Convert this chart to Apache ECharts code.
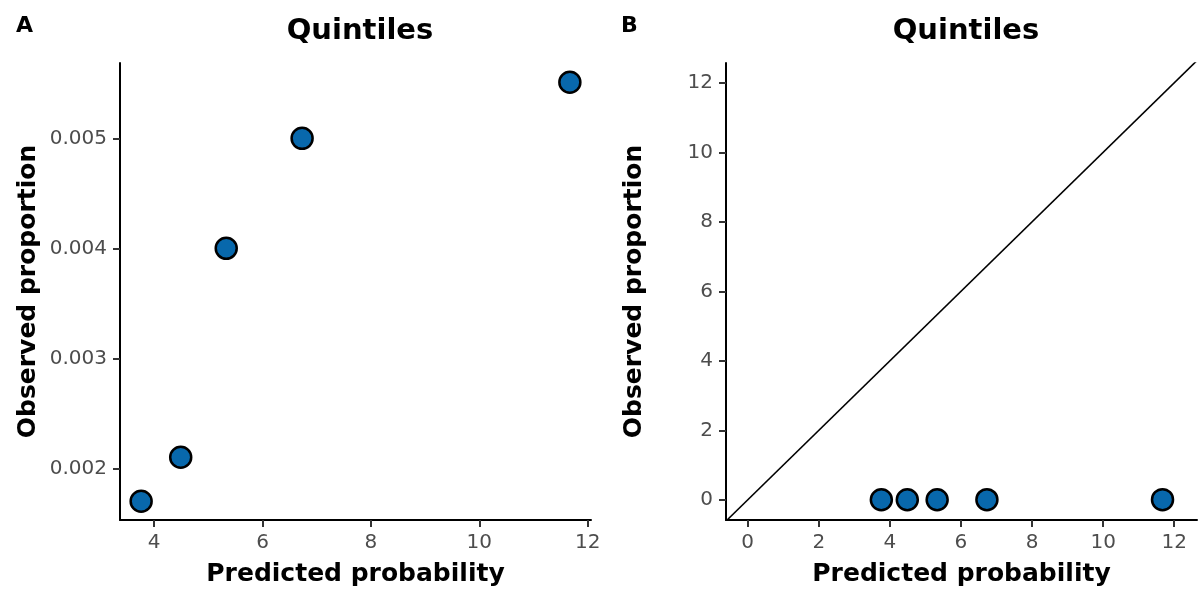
<!DOCTYPE html>
<html>
<head>
<meta charset="utf-8">
<script src="https://cdn.jsdelivr.net/npm/echarts@6/dist/echarts.min.js"></script>
<style>
html, body { margin: 0; padding: 0; background: #fff; }
#chart { width: 1200px; height: 592px; }
</style>
</head>
<body>
<div id="chart"></div>
<script>
// Data
const predicted = [3.76, 4.49, 5.33, 6.73, 11.67];
const observed = [0.0017, 0.0021, 0.0040, 0.0050, 0.00551];
const diagonal = [-1, 13];

// Tick labels
const ticksAx = [4, 6, 8, 10, 12];
const ticksAy = [0.002, 0.003, 0.004, 0.005];
const ticksBx = [0, 2, 4, 6, 8, 10, 12];
const ticksBy = [0, 2, 4, 6, 8, 10, 12];

const panelLabels = ['A', 'B'];
const panelTitle = 'Quintiles';
const xName = 'Predicted probability';
const yName = 'Observed proportion';

const FONT = 'DejaVu Sans';
const chart = echarts.init(document.getElementById('chart'), null, { renderer: 'canvas' });

function axisCommon(ticks, fmt) {
  return {
    type: 'value',
    splitLine: { show: false },
    axisLine: { show: true, onZero: false, lineStyle: { color: '#000', width: 2 } },
    axisTick: { show: true, length: 7, lineStyle: { color: '#333', width: 2 }, customValues: ticks },
    axisLabel: { show: true, margin: 13, color: '#4d4d4d', fontFamily: FONT, fontSize: 20, customValues: ticks, formatter: fmt },
    nameLocation: 'middle',
    nameTextStyle: { fontFamily: FONT, fontWeight: 'bold', fontSize: 25, color: '#000' }
  };
}

const pairsA = predicted.map((p, i) => [p, observed[i]]);
const pointStyle = { color: '#0868AC', borderColor: '#000', borderWidth: 2.5, opacity: 1 };

const option = {
  backgroundColor: '#fff',
  animation: false,
  title: [
    { text: panelLabels[0], left: 11, top: 10, textStyle: { fontFamily: FONT, fontWeight: 'bold', fontSize: 22, color: '#000' } },
    { text: panelLabels[1], left: 616, top: 10, textStyle: { fontFamily: FONT, fontWeight: 'bold', fontSize: 22, color: '#000' } },
    { text: panelTitle, left: 355, textAlign: 'center', top: 12, textStyle: { fontFamily: FONT, fontWeight: 'bold', fontSize: 29, color: '#000' } },
    { text: panelTitle, left: 961, textAlign: 'center', top: 12, textStyle: { fontFamily: FONT, fontWeight: 'bold', fontSize: 29, color: '#000' } }
  ],
  grid: [
    { left: 120, top: 63, width: 471, height: 458 },
    { left: 726, top: 63, width: 471, height: 458 }
  ],
  xAxis: [
    Object.assign(axisCommon(ticksAx, v => String(v)), { gridIndex: 0, min: 3.37, max: 12.06, name: xName, nameGap: 42 }),
    Object.assign(axisCommon(ticksBx, v => String(v)), { gridIndex: 1, min: -0.61, max: 12.64, name: xName, nameGap: 42 })
  ],
  yAxis: [
    Object.assign(axisCommon(ticksAy, v => v.toFixed(3)), { gridIndex: 0, min: 0.00153, max: 0.005685, name: yName, nameGap: 79 }),
    Object.assign(axisCommon(ticksBy, v => String(v)), { gridIndex: 1, min: -0.58, max: 12.57, name: yName, nameGap: 79 })
  ],
  series: [
    {
      type: 'scatter', xAxisIndex: 0, yAxisIndex: 0,
      data: pairsA, symbol: 'circle', symbolSize: 21, itemStyle: pointStyle, z: 3
    },
    {
      type: 'line', xAxisIndex: 1, yAxisIndex: 1,
      data: diagonal.map(v => [v, v]), showSymbol: false, symbol: 'none', clip: true,
      lineStyle: { color: '#000', width: 1.6 }, z: 2
    },
    {
      type: 'scatter', xAxisIndex: 1, yAxisIndex: 1,
      data: pairsA, symbol: 'circle', symbolSize: 21, itemStyle: pointStyle, z: 3
    }
  ]
};
chart.setOption(option);
</script>
</body>
</html>
